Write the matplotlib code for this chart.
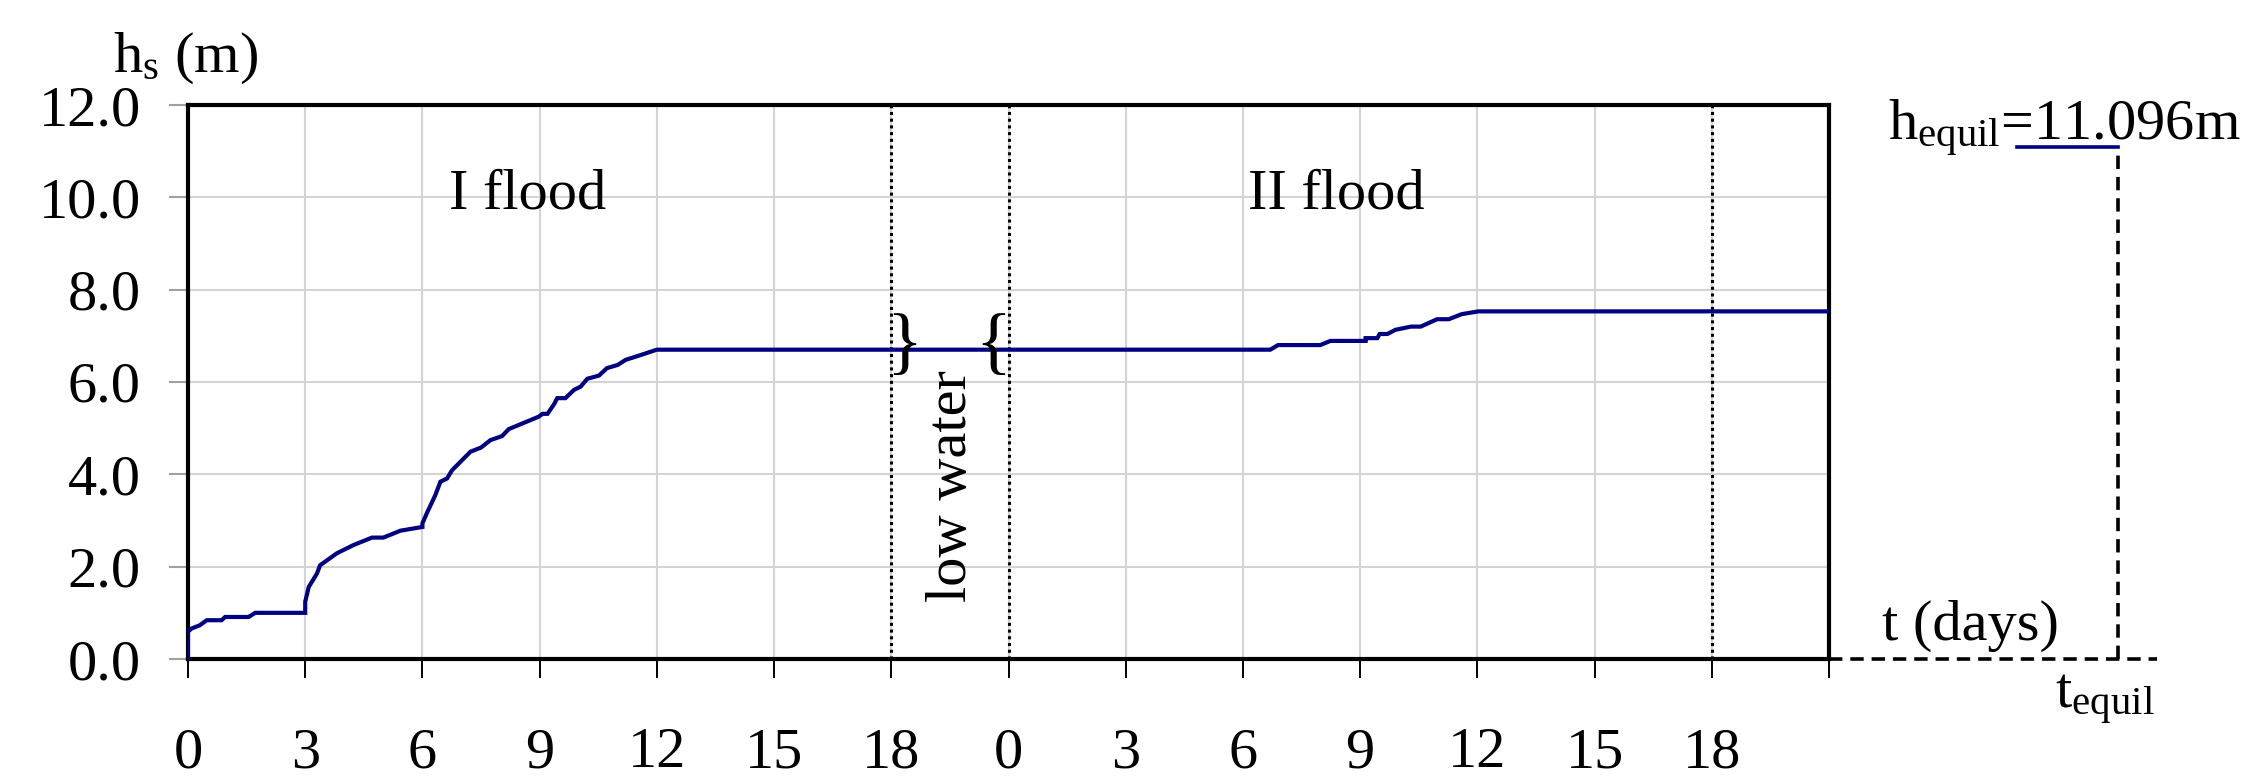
import matplotlib
matplotlib.use('Agg')
import matplotlib.pyplot as plt
import numpy as np

plt.rcParams['font.family'] = ['Liberation Serif', 'DejaVu Serif']
plt.rcParams['mathtext.fontset'] = 'custom'
plt.rcParams['mathtext.rm'] = 'Liberation Serif'
plt.rcParams['mathtext.it'] = 'Liberation Serif:italic'

# first flood: days 0..18
flood1_days = [0, 0, 0.09, 0.3, 0.48, 0.86, 0.95, 1.55, 1.72, 3.0, 3.0, 3.09, 3.3,
               3.38, 3.81, 4.24, 4.71, 5.0, 5.44, 6.0, 6.0, 6.13, 6.33, 6.46, 6.63,
               6.76, 7.23, 7.5, 7.74, 8.04, 8.21, 8.98, 9.07, 9.2, 9.37, 9.45, 9.66,
               9.88, 10.05, 10.22, 10.52, 10.72, 11.0, 11.2, 11.5, 12.0, 18.0]
flood1_h = [0, 0.59, 0.66, 0.73, 0.84, 0.84, 0.91, 0.91, 1.0, 1.0, 1.24, 1.56, 1.85,
            2.03, 2.29, 2.47, 2.63, 2.63, 2.78, 2.86, 2.94, 3.19, 3.55, 3.84, 3.91,
            4.09, 4.49, 4.58, 4.74, 4.83, 4.98, 5.25, 5.31, 5.31, 5.52, 5.65, 5.65,
            5.83, 5.90, 6.07, 6.14, 6.30, 6.37, 6.48, 6.56, 6.70, 6.70]

# low water period (3 days)
low_days = [18.0, 21.0]
low_h = [6.70, 6.70]

# second flood: days 0..21
flood2_days = [0, 6.7, 6.9, 7.98, 8.24, 9.14, 9.14, 9.44, 9.5, 9.7, 9.9, 10.3, 10.55,
               10.97, 11.27, 11.6, 12.03, 21.0]
flood2_h = [6.70, 6.70, 6.80, 6.80, 6.89, 6.89, 6.95, 6.95, 7.04, 7.04, 7.13, 7.20,
            7.20, 7.36, 7.36, 7.47, 7.53, 7.53]
flood2_start = 21.0

h_equil = 11.096
t_equil = 49.4  # position of t_equil on the extended axis

x_ticks = np.arange(0, 43, 3)
x_labels = ['0', '3', '6', '9', '12', '15', '18', '0', '3', '6', '9', '12', '15', '18', '']
y_ticks = np.arange(0, 13, 2)

t = flood1_days + low_days + [d + flood2_start for d in flood2_days]
h = flood1_h + low_h + flood2_h

fig = plt.figure(figsize=(22.65, 7.82), dpi=100)
ax = fig.add_axes([188/2265, 1-659/782, (1829-188)/2265, (659-105)/782])

ax.plot(t, h, color='#000080', lw=3, solid_joinstyle='miter', zorder=3)

ax.set_xlim(0, 42)
ax.set_ylim(0, 12)
ax.set_xticks(x_ticks)
ax.set_xticklabels(x_labels)
ax.set_yticks(y_ticks)
ax.set_yticklabels(['%.1f' % v for v in y_ticks])
ax.grid(True, color='#d4d4d4', lw=1.5)
ax.set_axisbelow(True)
for s in ax.spines.values():
    s.set_linewidth(3)
    s.set_color('black')
ax.tick_params(axis='x', direction='out', length=14, width=1.4, color='black', pad=35, labelsize=42)
ax.tick_params(axis='y', direction='out', length=14, width=1.5, color='#a0a0a0', pad=20, labelsize=42)

# period separators
for xv in [18, 21, 39]:
    ax.axvline(xv, color='black', lw=2.2, linestyle=(0, (1, 1.2)), zorder=2)

ax.text(8.7, 9.75, 'I flood', fontsize=42, ha='center', va='baseline')
ax.text(29.4, 9.75, 'II flood', fontsize=42, ha='center', va='baseline')
ax.text(19.55, 3.74, 'low water', fontsize=42, rotation=90, ha='center', va='center')
ax.text(18.33, 6.76, '}', fontsize=54, ha='center', va='center')
ax.text(20.6, 6.76, '{', fontsize=54, ha='center', va='center')

# equilibrium sketch outside the axes
ax.plot([42, 50.4], [0, 0], color='black', lw=2.6, dashes=(3.7, 2.2), clip_on=False)
ax.plot([t_equil, t_equil], [0, h_equil], color='black', lw=2.6, dashes=(3.7, 2.2), clip_on=False)
ax.plot([46.8, t_equil], [h_equil, h_equil], color='#000080', lw=2.6, clip_on=False)

fig.text(113/2265, 1-72/782, r'h$_\mathregular{s}$ (m)', fontsize=42, va='baseline')
fig.text(1888/2265, 1-140/782, r'h$_\mathregular{equil}$=11.096m', fontsize=42, va='baseline')
fig.text(1882/2265, 1-640/782, 't (days)', fontsize=42, va='baseline')
fig.text(2055/2265, 1-708/782, r't$_\mathregular{equil}$', fontsize=42, va='baseline')

fig.savefig('out.png', dpi=100)
